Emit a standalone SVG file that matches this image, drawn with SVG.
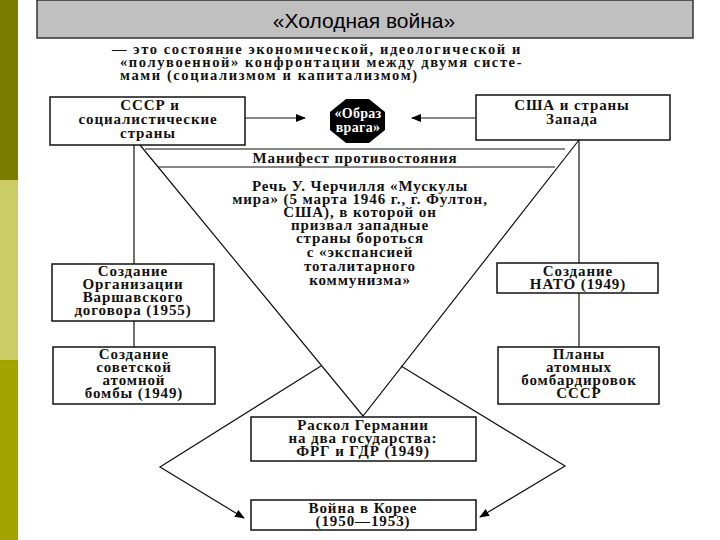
<svg xmlns="http://www.w3.org/2000/svg" width="720" height="540" viewBox="0 0 720 540">
<defs>
<marker id="ah" markerWidth="10" markerHeight="8" refX="9" refY="4" orient="auto" markerUnits="userSpaceOnUse"><path d="M0,0 L10,4 L0,8 Z" fill="#000"/></marker>
<style>
.t{font-family:"Liberation Serif",serif;font-weight:bold;font-size:15px;letter-spacing:0.9px;fill:#111;text-anchor:middle}
.i{font-family:"Liberation Serif",serif;font-weight:bold;font-size:14.5px;letter-spacing:1.6px;fill:#111}
.b{fill:#fff;stroke:#111;stroke-width:1.5}
.l{fill:none;stroke:#111;stroke-width:1.2}
</style>
</defs>
<rect width="720" height="540" fill="#fff"/>
<rect x="0" y="0" width="18" height="180" fill="#7b7b00"/>
<rect x="0" y="180" width="18" height="180" fill="#cccc66"/>
<rect x="0" y="360" width="18" height="180" fill="#a3a300"/>
<g id="title">
<rect x="37" y="0" width="656" height="38" fill="#c0c0c0" stroke="#333" stroke-width="1.5"/>
<text x="364" y="28" font-family="Liberation Sans Narrow,Liberation Sans,sans-serif" font-size="21" text-anchor="middle" fill="#000">«Холодная война»</text>
</g>
<g id="intro">
<text class="i" x="112" y="54">— это состояние экономической, идеологической и</text>
<text class="i" x="120" y="67">«полувоенной» конфронтации между двумя систе-</text>
<text class="i" x="120" y="80">мами (социализмом и капитализмом)</text>
</g>
<g id="connectors">
<line class="l" x1="245" y1="118" x2="305" y2="118" marker-end="url(#ah)"/>
<line class="l" x1="475" y1="118" x2="412" y2="118" marker-end="url(#ah)"/>
<line class="l" x1="134" y1="145" x2="134" y2="264"/>
<line class="l" x1="579" y1="140" x2="579" y2="263"/>
<line class="l" x1="145" y1="149" x2="565" y2="149"/>
<line class="l" x1="158" y1="167" x2="555" y2="167"/>
<polyline class="l" points="140,145 363,416 579,140"/>
<line class="l" x1="134" y1="321" x2="134" y2="347"/>
<line class="l" x1="579" y1="293" x2="579" y2="347"/>
<polyline class="l" points="321,366 160,467 244,518" marker-end="url(#ah)"/>
<polyline class="l" points="401,366 565,466 480,517" marker-end="url(#ah)"/>
</g>
<g id="ussr"><rect class="b" x="50" y="97" width="195" height="48"/>
<text class="t" x="150" y="110">СССР и</text><text class="t" x="148" y="124">социалистические</text><text class="t" x="148" y="138">страны</text></g>
<g id="enemy"><polygon points="346,99 369,99 385,112 385,130 369,143 346,143 330,130 330,112" fill="#000"/>
<text class="t" x="358" y="118" style="fill:#fff;letter-spacing:0.3px;font-size:14px">«Образ</text><text class="t" x="358" y="132" style="fill:#fff;letter-spacing:0.3px;font-size:14px">врага»</text></g>
<g id="usa"><rect class="b" x="476" y="95" width="194" height="45"/>
<text class="t" x="572" y="110">США и страны</text><text class="t" x="572" y="124">Запада</text></g>
<g id="manifest"><text class="t" x="355" y="163">Манифест противостояния</text></g>
<g id="speech">
<text class="t" x="360" y="191">Речь У. Черчилля «Мускулы</text>
<text class="t" x="360" y="204">мира» (5 марта 1946 г., г. Фултон,</text>
<text class="t" x="360" y="217">США), в которой он</text>
<text class="t" x="360" y="230">призвал западные</text>
<text class="t" x="360" y="243">страны бороться</text>
<text class="t" x="360" y="257">с «экспансией</text>
<text class="t" x="360" y="271">тоталитарного</text>
<text class="t" x="360" y="285">коммунизма»</text>
</g>
<g id="warsaw"><rect class="b" x="52" y="264" width="162" height="57"/>
<text class="t" x="133" y="276">Создание</text><text class="t" x="133" y="289">Организации</text><text class="t" x="133" y="302">Варшавского</text><text class="t" x="133" y="315">договора (1955)</text></g>
<g id="bomb"><rect class="b" x="53" y="347" width="162" height="57"/>
<text class="t" x="134" y="359">Создание</text><text class="t" x="134" y="372">советской</text><text class="t" x="134" y="385">атомной</text><text class="t" x="134" y="398">бомбы (1949)</text></g>
<g id="nato"><rect class="b" x="497" y="263" width="161" height="30"/>
<text class="t" x="578" y="276">Создание</text><text class="t" x="578" y="289">НАТО (1949)</text></g>
<g id="plans"><rect class="b" x="498" y="347" width="161" height="57"/>
<text class="t" x="579" y="359">Планы</text><text class="t" x="579" y="372">атомных</text><text class="t" x="579" y="385">бомбардировок</text><text class="t" x="579" y="398">СССР</text></g>
<g id="germany"><rect class="b" x="251" y="417" width="225" height="44"/>
<text class="t" x="363" y="430">Раскол Германии</text><text class="t" x="363" y="443">на два государства:</text><text class="t" x="363" y="456">ФРГ и ГДР (1949)</text></g>
<g id="korea"><rect class="b" x="251" y="500" width="225" height="30"/>
<text class="t" x="363" y="513">Война в Корее</text><text class="t" x="363" y="526">(1950—1953)</text></g>
</svg>
